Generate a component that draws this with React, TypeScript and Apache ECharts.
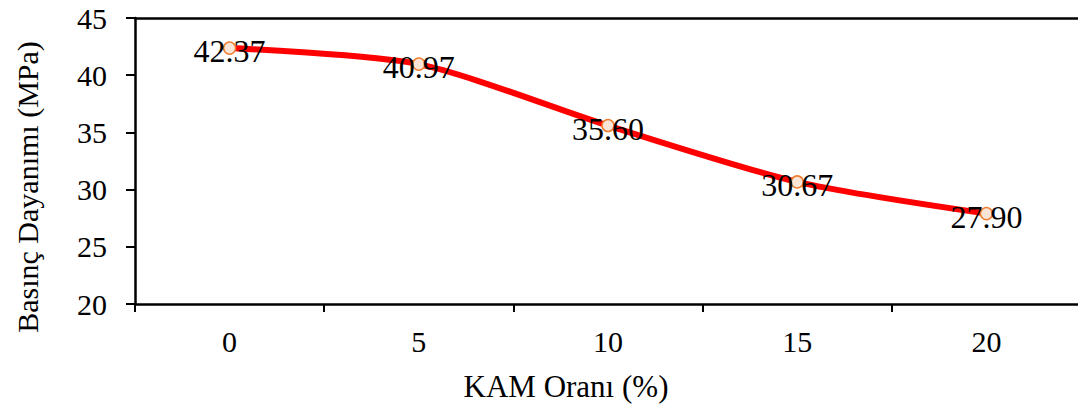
import React, { useEffect, useRef } from "react";
import * as echarts from "echarts";

const categories = ["0", "5", "10", "15", "20"];
const strengthValues = [42.37, 40.97, 35.6, 30.67, 27.9];
const yTicks = { min: 20, max: 45, interval: 5 };
const xTitle = "KAM Oranı (%)";
const yTitle = "Basınç Dayanımı (MPa)";

const FONT = "Times New Roman, Liberation Serif, DejaVu Serif, serif";

export default function App() {
  const ref = useRef<HTMLDivElement>(null);
  useEffect(() => {
    if (!ref.current) return;
    const chart = echarts.init(ref.current, null, { renderer: "svg" });
    chart.setOption({
      animation: false,
      backgroundColor: "#ffffff",
      textStyle: { fontFamily: FONT },
      grid: { left: 135, top: 18, bottom: 105, right: 0 },
      xAxis: [
        {
          type: "category",
          data: categories,
          boundaryGap: true,
          axisLine: { show: true, lineStyle: { color: "#000", width: 2.5 } },
          axisTick: { show: true, length: 8, inside: false, lineStyle: { color: "#000", width: 2 } },
          axisLabel: { color: "#000", fontFamily: FONT, fontSize: 30, margin: 22 },
          splitLine: { show: false },
        },
        {
          type: "category",
          data: categories,
          position: "top",
          axisLine: { show: true, lineStyle: { color: "#000", width: 2.5 } },
          axisTick: { show: false },
          axisLabel: { show: false },
          splitLine: { show: false },
        },
      ],
      yAxis: {
        type: "value",
        min: yTicks.min,
        max: yTicks.max,
        interval: yTicks.interval,
        axisLine: { show: true, lineStyle: { color: "#000", width: 2.5 } },
        axisTick: { show: true, length: 9, lineStyle: { color: "#000", width: 2 } },
        axisLabel: { color: "#000", fontFamily: FONT, fontSize: 30, margin: 28 },
        splitLine: { show: false },
      },
      graphic: [
        {
          type: "text",
          x: 566,
          y: 386,
          style: {
            text: xTitle,
            font: `31px ${FONT}`,
            fill: "#000",
            textAlign: "center",
            textVerticalAlign: "middle",
          },
        },
        {
          type: "text",
          x: 27,
          y: 187,
          rotation: Math.PI / 2,
          style: {
            text: yTitle,
            font: `30px ${FONT}`,
            fill: "#000",
            textAlign: "center",
            textVerticalAlign: "middle",
          },
        },
      ],
      series: [
        {
          type: "line",
          data: strengthValues,
          smooth: 0.25,
          lineStyle: { color: "#FF0000", width: 6 },
          symbol: "circle",
          symbolSize: 12,
          itemStyle: { color: "#FBE5D6", borderColor: "#ED7D31", borderWidth: 1.5 },
          label: {
            show: true,
            position: "inside",
            offset: [0, 3],
            formatter: (p: any) => Number(p.value).toFixed(2),
            color: "#000",
            fontFamily: FONT,
            fontSize: 32,
          },
          z: 3,
        },
      ],
    });
    return () => chart.dispose();
  }, []);
  return (
    <div style={{ position: "absolute", left: 0, top: 0, width: 1078, height: 409, overflow: "hidden" }}>
      <div ref={ref} style={{ width: 1081, height: 409 }} />
    </div>
  );
}
